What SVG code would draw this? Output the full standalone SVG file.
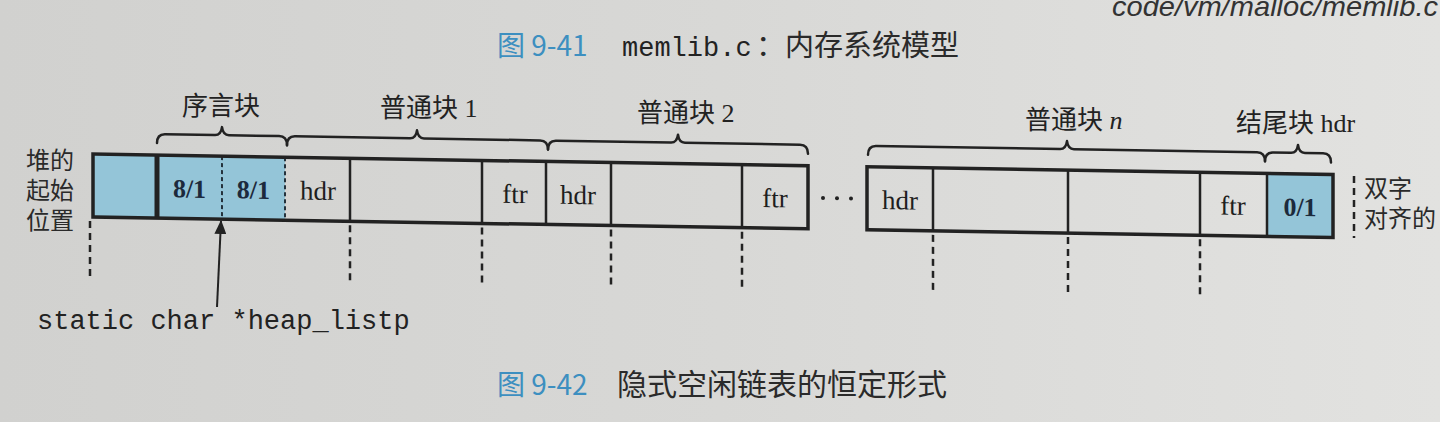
<svg xmlns="http://www.w3.org/2000/svg" width="1440" height="422" viewBox="0 0 1440 422">
<defs>
<linearGradient id="paper" x1="0" y1="0" x2="1" y2="0">
<stop offset="0" stop-color="#d1d1cf"/>
<stop offset="0.5" stop-color="#d8d8d6"/>
<stop offset="1" stop-color="#e2e2e0"/>
</linearGradient>
<marker id="arrowhead" viewBox="0 0 14 12" refX="13" refY="6" markerWidth="14" markerHeight="12" markerUnits="userSpaceOnUse" orient="auto">
<path d="M0,0 L14,6 L0,12 Z" fill="#222"/>
</marker>
</defs>
<style>
.cjk{font-family:"Noto Sans CJK SC","Noto Sans",sans-serif;fill:#2a2a2a}
.lbl{font-family:"Liberation Serif","Noto Sans CJK SC",serif;font-size:26px;fill:#222}
.cell{font-family:"Liberation Serif",serif;font-size:27px;fill:#1e1e1e;text-anchor:middle}
.bold{font-family:"Liberation Serif",serif;font-size:26px;font-weight:bold;fill:#1c2a3c;text-anchor:middle}
.mono{font-family:"Liberation Mono",monospace;fill:#222}
.blue{fill:#94c5d8}
.edge{fill:none;stroke:#222;stroke-width:3.5}
.sep{stroke:#222;stroke-width:2.5}
.dsep{stroke:#24323c;stroke-width:2;stroke-dasharray:4 3}
.dash{stroke:#222;stroke-width:2.5;stroke-dasharray:7 5;fill:none}
.brace{fill:none;stroke:#222;stroke-width:2.5;stroke-linecap:round;stroke-linejoin:round}
.cap{font-family:"Noto Sans CJK SC","Noto Sans",sans-serif;fill:#3d8fc0}
</style>
<rect x="0" y="0" width="1440" height="422" fill="url(#paper)"/>

<text x="1112" y="16" font-family="Liberation Sans, sans-serif" font-style="italic" font-size="28" fill="#333" textLength="326" lengthAdjust="spacingAndGlyphs">code/vm/malloc/memlib.c</text>

<g id="caption-941">
<text x="497" y="56" class="cap" font-size="28">图 9-41</text>
<text x="622" y="56" class="mono" font-size="27">memlib.c</text>
<text x="756" y="56" class="cjk" font-size="29">：内存系统模型</text>
</g>

<g id="strip" transform="matrix(1 0.0165 0 1 0 -1.53)">
<g id="pad-block">
<rect x="93" y="154" width="64" height="63" class="blue"/>
</g>
<g id="prologue">
<rect x="157" y="154" width="128" height="63" class="blue"/>
<line x1="222" y1="154" x2="222" y2="217" class="dsep"/>
<line x1="285" y1="154" x2="285" y2="217" class="dsep"/>
<text x="189.5" y="196" class="bold">8/1</text>
<text x="253.5" y="196" class="bold">8/1</text>
</g>
<g id="block-1">
<line x1="350" y1="154" x2="350" y2="217" class="sep"/>
<line x1="482" y1="154" x2="482" y2="217" class="sep"/>
<text x="318" y="196" class="cell">hdr</text>
<text x="515" y="196" class="cell">ftr</text>
</g>
<g id="block-2">
<line x1="546" y1="154" x2="546" y2="217" class="sep" stroke-width="3.5"/>
<line x1="611" y1="154" x2="611" y2="217" class="sep"/>
<line x1="742" y1="154" x2="742" y2="217" class="sep"/>
<text x="578" y="196" class="cell">hdr</text>
<text x="775" y="196" class="cell">ftr</text>
</g>
<line x1="157" y1="154" x2="157" y2="217" stroke="#222" stroke-width="5"/>
<rect x="93" y="154" width="715" height="63" class="edge"/>
<g id="ellipsis" fill="#222">
<circle cx="823" cy="186" r="2"/>
<circle cx="837" cy="186" r="2"/>
<circle cx="851" cy="186" r="2"/>
</g>
<g id="block-n">
<line x1="933" y1="154" x2="933" y2="217" class="sep"/>
<line x1="1068" y1="154" x2="1068" y2="217" class="sep"/>
<line x1="1200" y1="154" x2="1200" y2="217" class="sep"/>
<text x="900" y="196" class="cell">hdr</text>
<text x="1233" y="196" class="cell">ftr</text>
</g>
<g id="epilogue">
<rect x="1267" y="154" width="66" height="63" class="blue"/>
<line x1="1267" y1="154" x2="1267" y2="217" class="sep" stroke-width="3"/>
<text x="1300" y="196" class="bold" fill="#16324a">0/1</text>
</g>
<rect x="867" y="154" width="466" height="63" class="edge"/>

<g id="braces">
<path class="brace" d="M157,142 Q157,133 165,133 L215,133 Q221,133 222,125 Q223,133 229,133 L279,133 Q287,133 287,142"/>
<path class="brace" d="M287,142 Q287,133 295,133 L410,133 Q416,133 417,125 Q418,133 424,133 L540,133 Q548,133 548,142"/>
<path class="brace" d="M548,142 Q548,133 556,133 L671,133 Q677,133 678,125 Q679,133 685,133 L800,133 Q808,133 808,142"/>
<path class="brace" d="M868,142 Q868,133 876,133 L1060,133 Q1066,133 1067,125 Q1068,133 1074,133 L1257,133 Q1265,133 1265,142"/>
<path class="brace" d="M1265,142 Q1265,133 1273,133 L1291,133 Q1297,133 1298,125 Q1299,133 1305,133 L1323,133 Q1331,133 1331,142"/>
</g>

<g id="guides">
<line x1="90" y1="221" x2="90" y2="279" class="dash"/>
<line x1="350" y1="221" x2="350" y2="279" class="dash"/>
<line x1="482" y1="221" x2="482" y2="279" class="dash"/>
<line x1="611" y1="221" x2="611" y2="279" class="dash"/>
<line x1="742" y1="221" x2="742" y2="279" class="dash"/>
<line x1="933" y1="221" x2="933" y2="279" class="dash"/>
<line x1="1068" y1="221" x2="1068" y2="279" class="dash"/>
<line x1="1200" y1="221" x2="1200" y2="279" class="dash"/>
</g>
</g>

<g id="labels">
<text x="182" y="115" class="lbl">序言块</text>
<text x="380" y="117" class="lbl">普通块 1</text>
<text x="637" y="122" class="lbl">普通块 2</text>
<text x="1025" y="129" class="lbl">普通块 <tspan font-style="italic">n</tspan></text>
<text x="1236" y="132" class="lbl">结尾块 hdr</text>
</g>

<g id="heap-start-label" class="cjk" font-size="24">
<text x="26" y="169">堆的</text>
<text x="26" y="199">起始</text>
<text x="26" y="229">位置</text>
</g>

<g id="align-label">
<line x1="1354" y1="176" x2="1354" y2="238" class="dash" stroke-width="2"/>
<text x="1364" y="197" class="cjk" font-size="24">双字</text>
<text x="1364" y="227" class="cjk" font-size="24">对齐的</text>
</g>

<g id="connectors">
<line x1="217" y1="307" x2="221" y2="221" stroke="#222" stroke-width="2" marker-end="url(#arrowhead)"/>
</g>

<g id="pointer-label">
<text x="37" y="329" class="mono" font-size="27">static char *heap_listp</text>
</g>

<g id="caption-942">
<text x="497" y="395" class="cap" font-size="28">图 9-42</text>
<text x="617" y="395" class="cjk" font-size="30">隐式空闲链表的恒定形式</text>
</g>
</svg>
